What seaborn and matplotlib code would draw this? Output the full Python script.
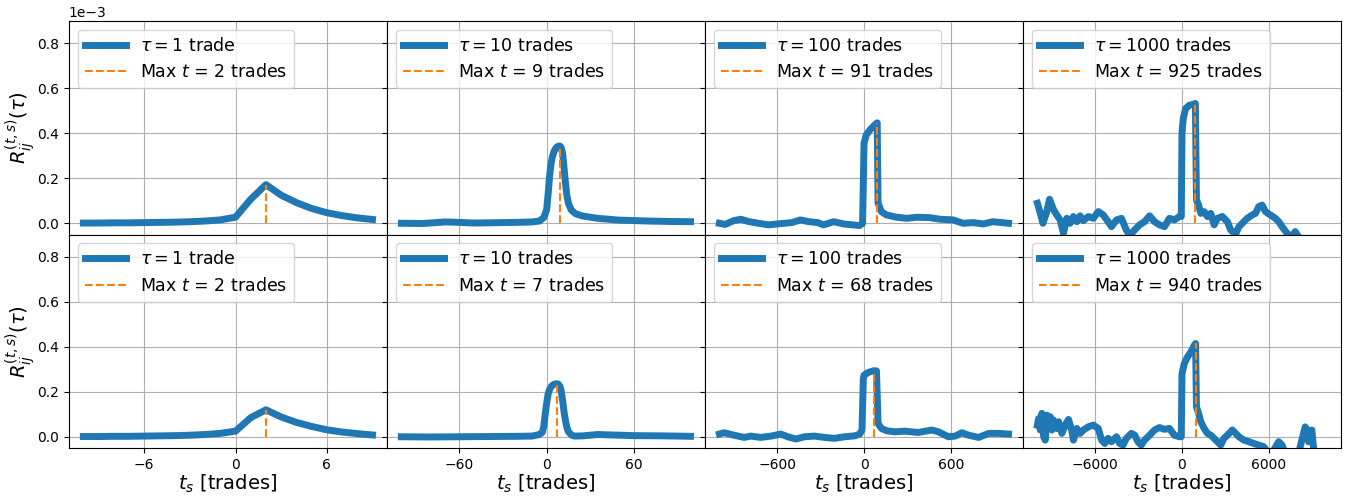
import numpy as np
import pandas as pd
import seaborn as sns
import matplotlib
matplotlib.use("Agg")
import matplotlib.pyplot as plt

# cross-response R_ij^(t,s)(tau), values in units of 1e-3
TAUS = [1, 10, 100, 1000]
XTICKS = [[-6, 0, 6], [-60, 0, 60], [-600, 0, 600], [-6000, 0, 6000]]
MAX_T_TOP = [2, 9, 91, 925]
MAX_T_BOTTOM = [2, 7, 68, 940]

t_1 = [-10, -9, -8, -7, -6, -5, -4, -3, -2, -1, 0, 1, 2, 3, 4, 5, 6, 7, 8, 9]
r_1_top = [0.001, 0.001, 0.002, 0.002, 0.003, 0.004, 0.005, 0.007, 0.010, 0.015,
           0.027, 0.107, 0.172, 0.125, 0.092, 0.066, 0.047, 0.034, 0.024, 0.017]
r_1_bottom = [0.001, 0.001, 0.002, 0.002, 0.003, 0.004, 0.005, 0.007, 0.010, 0.015,
              0.025, 0.085, 0.120, 0.088, 0.064, 0.046, 0.031, 0.021, 0.014, 0.008]

t_10_top = [-100, -85, -70, -60, -50, -40, -30, -20, -10, -5, -2, 0, 1, 2, 3, 4, 5, 6,
            7, 8, 9, 10, 11, 12, 13, 14, 15, 17, 20, 25, 35, 50, 70, 85, 99]
r_10_top = [0.000, -0.001, 0.006, 0.004, 0.001, 0.002, 0.003, 0.004, 0.006, 0.010,
            0.025, 0.060, 0.130, 0.210, 0.265, 0.298, 0.318, 0.331, 0.339, 0.343,
            0.344, 0.337, 0.310, 0.245, 0.175, 0.120, 0.088, 0.058, 0.042, 0.032,
            0.022, 0.014, 0.010, 0.008, 0.007]
t_10_bottom = [-100, -80, -60, -40, -20, -10, -5, -3, -2, -1, 0, 1, 2, 3, 4, 5, 6, 7,
               8, 9, 10, 11, 12, 13, 14, 15, 17, 19, 25, 35, 45, 60, 80, 99]
r_10_bottom = [0.000, -0.001, 0.000, 0.001, 0.002, 0.003, 0.010, 0.020, 0.045, 0.100,
               0.150, 0.190, 0.210, 0.222, 0.229, 0.233, 0.235, 0.236, 0.234, 0.226,
               0.205, 0.160, 0.110, 0.070, 0.040, 0.022, 0.008, 0.003, 0.004, 0.010,
               0.008, 0.005, 0.004, 0.002]

t_100_top = [-1000, -960, -900, -850, -800, -730, -660, -600, -500, -440, -380, -320,
             -280, -210, -140, -80, -30, -10, -3, 0, 15, 40, 65, 85, 91, 97, 120, 155,
             225, 295, 365, 455, 525, 615, 685, 755, 825, 890, 999]
r_100_top = [0.000, -0.005, 0.012, 0.018, 0.008, 0.000, -0.007, -0.003, 0.003, 0.015,
             0.007, 0.003, -0.007, 0.007, -0.003, -0.007, -0.010, 0.000, 0.250, 0.356,
             0.393, 0.415, 0.432, 0.444, 0.447, 0.090, 0.052, 0.037, 0.027, 0.022,
             0.027, 0.025, 0.018, 0.015, 0.000, 0.003, -0.003, 0.007, 0.000]
t_100_bottom = [-1000, -968, -899, -829, -783, -714, -644, -575, -528, -470, -412, -343,
                -273, -204, -134, -65, -30, -14, -5, 0, 28, 63, 68, 86, 97, 120, 155,
                213, 283, 375, 468, 514, 584, 630, 677, 723, 792, 862, 931, 999]
r_100_bottom = [0.012, 0.018, 0.007, -0.003, 0.003, -0.003, 0.003, 0.012, 0.000, -0.010,
                0.000, 0.003, -0.003, -0.007, 0.000, 0.004, 0.012, 0.030, 0.259, 0.274,
                0.286, 0.293, 0.294, 0.293, 0.059, 0.037, 0.027, 0.022, 0.025, 0.019,
                0.030, 0.022, 0.000, 0.003, 0.018, 0.007, -0.003, 0.015, 0.015, 0.012]

t_1000_top = [-10000, -9800, -9620, -9390, -9160, -8880, -8660, -8430, -8200, -7970,
              -7740, -7510, -7280, -7050, -6820, -6480, -6140, -5790, -5450, -5110,
              -4880, -4530, -4190, -3850, -3620, -3280, -2930, -2590, -2240, -1900,
              -1560, -1210, -870, -530, -180, -50, 0, 50, 100, 250,
              500, 800, 925, 1000, 1150, 1300, 1530, 1760, 1990, 2220,
              2450, 2790, 3140, 3370, 3710, 3940, 4170, 4510, 4860, 5080,
              5310, 5540, 5770, 6110, 6460, 6690, 6920, 7260, 7600, 7830,
              8060, 8300, 8700, 9200, 9600, 9999]
r_1000_top = [0.089, 0.044, 0.000, 0.044, 0.107, 0.059, 0.037, 0.015, -0.044, 0.022,
              0.000, 0.030, 0.007, 0.033, 0.012, 0.030, 0.022, 0.052, 0.037, 0.007,
              -0.015, 0.015, 0.022, -0.030, -0.055, -0.030, -0.007, 0.007, 0.033, 0.007,
              -0.007, -0.015, 0.022, 0.015, 0.030, 0.030, 0.400, 0.440, 0.470, 0.510,
              0.525, 0.530, 0.533, 0.104, 0.081, 0.044, 0.052, 0.030, 0.044, -0.007,
              0.022, 0.030, 0.007, -0.030, -0.048, -0.015, 0.000, 0.022, 0.037, 0.044,
              0.074, 0.081, 0.052, 0.037, 0.022, 0.007, -0.015, -0.044, -0.060, -0.037,
              -0.060, -0.090, -0.120, -0.110, -0.130, -0.100]
t_1000_bottom = [-10000, -9920, -9800, -9690, -9570, -9460, -9340, -9230, -9110, -9000,
                 -8890, -8660, -8540, -8310, -8080, -7850, -7630, -7510, -7280, -7050,
                 -6820, -6480, -6140, -5790, -5560, -5340, -5110, -4880, -4530, -4310,
                 -4080, -3850, -3500, -3270, -3050, -2820, -2590, -2240, -1900, -1560,
                 -1210, -870, -530, -180, -50, 0, 160, 390, 620, 850,
                 940, 1000, 1150, 1300, 1530, 1760, 1990, 2220, 2450, 2680,
                 2900, 3140, 3480, 3710, 3940, 4280, 4630, 4970, 5310, 5650,
                 6000, 6340, 6690, 6920, 7140, 7600, 8060, 8520, 8640, 8750,
                 8980, 9090, 9200, 9600, 9999]
r_1000_bottom = [0.052, 0.081, 0.030, 0.104, 0.000, -0.015, 0.096, 0.044, 0.089, 0.030,
                 0.074, 0.037, 0.067, 0.015, 0.052, 0.077, 0.030, -0.015, 0.037, 0.015,
                 0.030, 0.044, 0.052, 0.037, -0.015, -0.030, -0.007, -0.022, 0.000, -0.030,
                 -0.037, -0.007, 0.015, 0.007, -0.022, -0.037, -0.015, 0.007, 0.030, 0.041,
                 0.033, 0.037, 0.007, 0.000, 0.000, 0.280, 0.326, 0.356, 0.378, 0.407,
                 0.415, 0.133, 0.104, 0.067, 0.037, 0.015, 0.007, -0.007, -0.022, -0.037,
                 -0.007, 0.007, 0.030, 0.015, 0.000, -0.015, -0.022, -0.030, -0.037, -0.044,
                 -0.075, -0.060, -0.022, -0.037, -0.075, -0.090, -0.075, 0.044, 0.030, -0.022,
                 0.030, -0.044, -0.090, -0.100, -0.090]

TOP = [(t_1, r_1_top), (t_10_top, r_10_top), (t_100_top, r_100_top), (t_1000_top, r_1000_top)]
BOTTOM = [(t_1, r_1_bottom), (t_10_bottom, r_10_bottom), (t_100_bottom, r_100_bottom),
          (t_1000_bottom, r_1000_bottom)]


def draw_panel(ax, t, r, tau, max_t):
    df = pd.DataFrame({"t": t, "r": np.array(r) * 1e-3})
    unit = "trade" if tau == 1 else "trades"
    sns.lineplot(data=df, x="t", y="r", ax=ax, color="tab:blue", linewidth=5,
                 label=rf"$\tau = {tau}$ {unit}")
    peak = df.loc[df["t"] == max_t, "r"].iloc[0]
    ax.vlines(max_t, 0, peak, colors="tab:orange", linestyles="--", linewidth=1.5,
              label=rf"Max $t$ = {max_t} trades")
    ax.legend(loc="upper left", fontsize=12.5, handlelength=2.4)
    ax.grid(True)
    ax.set_xlabel("")
    ax.set_ylabel("")


fig, axes = plt.subplots(2, 4, figsize=(13.51, 4.97), dpi=100, sharey=True, sharex="col")
fig.subplots_adjust(left=0.051, right=0.9926, top=0.9577, bottom=0.0986, wspace=0, hspace=0)

for col, tau in enumerate(TAUS):
    draw_panel(axes[0, col], *TOP[col], tau, MAX_T_TOP[col])
    draw_panel(axes[1, col], *BOTTOM[col], tau, MAX_T_BOTTOM[col])
    axes[1, col].set_xticks(XTICKS[col])
    axes[1, col].set_xlabel(r"$t_s$ [trades]", fontsize=14, labelpad=1)

axes[0, 0].set_ylim(-0.05e-3, 0.9e-3)
axes[0, 0].set_yticks([0, 0.2e-3, 0.4e-3, 0.6e-3, 0.8e-3])
for row in range(2):
    axes[row, 0].ticklabel_format(axis="y", style="sci", scilimits=(-3, -3))
    axes[row, 0].set_ylabel(r"$R_{ij}^{(t,s)}(\tau)$", fontsize=14, labelpad=0)
axes[1, 0].yaxis.get_offset_text().set_visible(False)

fig.savefig("out.png", dpi=100)
